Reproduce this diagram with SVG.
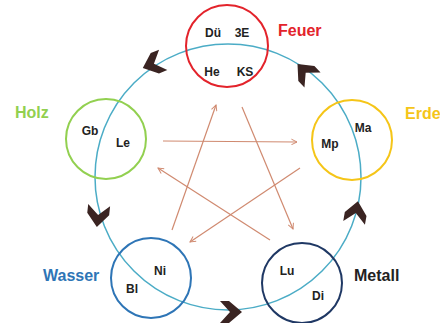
<svg xmlns="http://www.w3.org/2000/svg" width="440" height="323" viewBox="0 0 440 323">
<defs>
<style>
.ring{fill:none;stroke:#4bacc6;stroke-width:1.5}
.node{fill:none;stroke-width:2}
.in{font-family:"Liberation Sans",Arial,sans-serif;font-weight:bold;font-size:12px;fill:#222;text-anchor:middle}
.lab{font-family:"Liberation Sans",Arial,sans-serif;font-weight:bold;font-size:16px}
.star{stroke:#d08a70;stroke-width:1.2;fill:none;marker-end:url(#ah)}
.chev{fill:#3a2422}
</style>
<marker id="ah" viewBox="0 0 10 10" refX="9" refY="5" markerWidth="7" markerHeight="7" markerUnits="userSpaceOnUse" orient="auto">
<path d="M1,1 L9,5 L1,9" fill="none" stroke="#d08a70" stroke-width="1.4"/>
</marker>
<path id="cv" d="M-11,-11 L-2,-11 L11,0 L-2,11 L-11,11 L-1,0 Z"/>
</defs>
<rect width="440" height="323" fill="#fff"/>
<g id="connectors">
<circle class="ring" cx="228" cy="177" r="133"/>
<line class="star" x1="163" y1="141" x2="297" y2="142"/>
<line class="star" x1="172" y1="230" x2="216" y2="105"/>
<line class="star" x1="242" y1="107" x2="293" y2="229"/>
<line class="star" x1="300" y1="168" x2="190" y2="242"/>
<line class="star" x1="270" y1="240" x2="158" y2="168"/>
<use href="#cv" class="chev" transform="translate(153,64) rotate(158)"/>
<use href="#cv" class="chev" transform="translate(305,72) rotate(-133)"/>
<use href="#cv" class="chev" transform="translate(356,212) rotate(-80)"/>
<use href="#cv" class="chev" transform="translate(231,312) rotate(0)"/>
<use href="#cv" class="chev" transform="translate(98,216) rotate(96)"/>
</g>
<g id="feuer">
<circle class="node" cx="227" cy="46" r="41" stroke="#e3232b"/>
<text class="in" x="213" y="37">Dü</text>
<text class="in" x="242" y="37">3E</text>
<text class="in" x="212" y="76">He</text>
<text class="in" x="245" y="76">KS</text>
<text class="lab" x="278" y="36" fill="#e3232b">Feuer</text>
</g>
<g id="holz">
<circle class="node" cx="106" cy="139" r="40" stroke="#92d050"/>
<text class="in" x="90" y="135">Gb</text>
<text class="in" x="123" y="147">Le</text>
<text class="lab" x="15" y="118" fill="#92d050">Holz</text>
</g>
<g id="erde">
<circle class="node" cx="352" cy="140" r="40" stroke="#f5c518"/>
<text class="in" x="363" y="132">Ma</text>
<text class="in" x="330" y="148">Mp</text>
<text class="lab" x="405" y="119" fill="#f5c518">Erde</text>
</g>
<g id="wasser">
<circle class="node" cx="151" cy="278" r="40" stroke="#2e75b6"/>
<text class="in" x="160" y="275">Ni</text>
<text class="in" x="132" y="293">Bl</text>
<text class="lab" x="43" y="281" fill="#2e75b6">Wasser</text>
</g>
<g id="metall">
<circle class="node" cx="302" cy="283" r="40" stroke="#1f3864"/>
<text class="in" x="287" y="275">Lu</text>
<text class="in" x="318" y="300">Di</text>
<text class="lab" x="354" y="281" font-size="17" fill="#222">Metall</text>
</g>
</svg>
